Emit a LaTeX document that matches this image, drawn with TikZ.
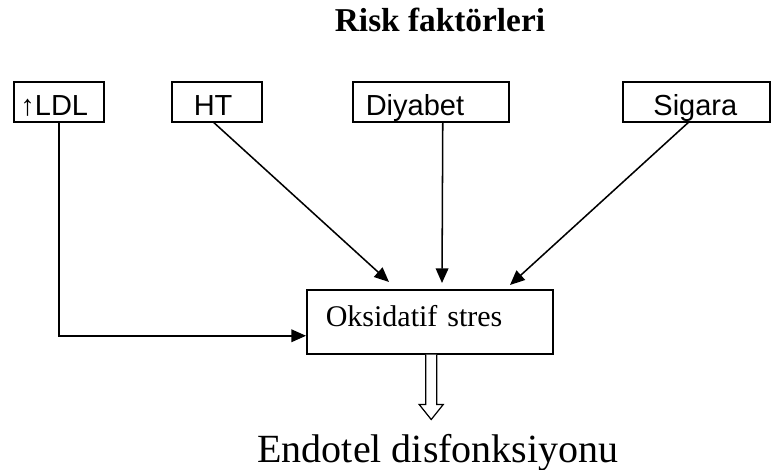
\documentclass[tikz,border=0pt]{standalone}
\usepackage{fontspec}
\setmainfont{Liberation Serif}
\setsansfont{Liberation Sans}
\usetikzlibrary{arrows.meta,calc}

\begin{document}
\begin{tikzpicture}[x=0.75pt,y=-0.75pt,line width=1.15pt,
                    >={Triangle[length=11pt,width=9.5pt]},
                    factor/.style={draw,anchor=north west,inner ysep=0pt,align=left,
                      font=\sffamily\fontsize{21.75}{26}\selectfont,
                      text height=25.5pt,text depth=4.5pt}]

  \useasboundingbox (0,0) rectangle (771,470);

  \node[font=\bfseries\fontsize{25}{30}\selectfont,anchor=base] (title) at (440,32) {Risk faktörleri};

  \node[factor,inner xsep=5pt,text width=57.5pt]      (ldl) at (13,81)  {↑LDL};
  \node[factor,inner xsep=16.5pt,text width=34.5pt]   (ht)  at (171,81) {HT};
  \node[factor,inner xsep=9.75pt,text width=97.5pt]   (dia) at (352,81) {Diyabet};
  \node[factor,inner xsep=23pt,text width=64.25pt]    (sig) at (622,81) {Sigara};

  \node[draw,anchor=north west,text width=156pt,align=left,inner xsep=14.25pt,inner ysep=0pt,
        font=\fontsize{22.5}{27}\selectfont,text height=27.75pt,text depth=20.25pt]
        (oks) at (306,289) {Oksidatif stres};

  \draw[->] (ldl.south) |- ([yshift=-10.5pt]oks.west);
  \draw[->] ([xshift=-2.25pt]ht.south) -- ([xshift=62.25pt,yshift=5.25pt]oks.north west);
  \draw[->] ([xshift=9pt]dia.south) -- ([xshift=102pt,yshift=4.5pt]oks.north west);
  \draw[->] ([xshift=-6pt]sig.south) -- ([xshift=153pt,yshift=3pt]oks.north west);

  % hollow arrow
  \coordinate (hol) at ([xshift=1.1pt]oks.south);
  \draw[line width=0.9pt,fill=white] ($(hol)+(-5.5,0)$) -- ($(hol)+(-5.5,50)$) -- ($(hol)+(-12,50)$)
    -- ($(hol)+(0,65)$) -- ($(hol)+(12,50)$) -- ($(hol)+(5.5,50)$) -- ($(hol)+(5.5,0)$);

  \node[font=\fontsize{30}{36}\selectfont,anchor=base] (endo) at (438,462) {Endotel disfonksiyonu};
\end{tikzpicture}
\end{document}
